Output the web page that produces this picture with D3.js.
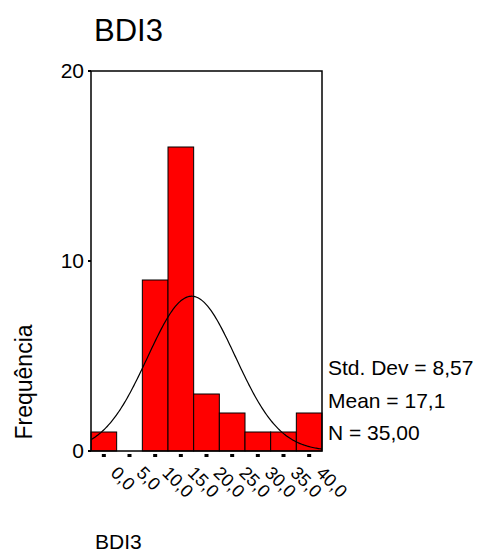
<!DOCTYPE html>
<html>
<head>
<meta charset="utf-8">
<script src="https://cdn.jsdelivr.net/npm/d3@7"></script>
<style>
  body { margin: 0; background: #fff; }
  svg text { font-family: "Liberation Sans", Arial, sans-serif; fill: #000; }
</style>
</head>
<body>
<svg id="chart" width="480" height="555"></svg>
<script>
// histogram bins (centers) and counts
var binCenters = [0, 5, 10, 15, 20, 25, 30, 35, 40];
var binCounts  = [1, 0, 9, 16, 3, 2, 1, 1, 2];
var tickLabels = ['0,0', '5,0', '10,0', '15,0', '20,0', '25,0', '30,0', '35,0', '40,0'];
var yTicks = [0, 10, 20];
var binWidth = 5;
var stdDev = 8.57, mean = 17.1, n = 35;
var statLines = ['Std. Dev = 8,57', 'Mean = 17,1', 'N = 35,00'];

(function() {
    var svg = d3.select('#chart'),
        plotLeft = 91, plotRight = 322, plotTop = 71, plotBottom = 451;

    var x = d3.scaleLinear()
        .domain([binCenters[0] - binWidth / 2, binCenters[binCenters.length - 1] + binWidth / 2])
        .range([plotLeft, plotRight]);
    var y = d3.scaleLinear().domain([0, 20]).range([plotBottom, plotTop]);

    // title
    svg.append('text')
        .attr('x', 94).attr('y', 41)
        .style('font-size', '31px')
        .text('BDI3');

    // bars
    svg.selectAll('rect.bar')
        .data(binCenters.map(function(c, i) { return { c: c, v: binCounts[i] }; })
            .filter(function(d) { return d.v > 0; }))
        .enter().append('rect')
        .attr('class', 'bar')
        .attr('x', function(d) { return x(d.c - binWidth / 2); })
        .attr('width', function(d) { return x(d.c + binWidth / 2) - x(d.c - binWidth / 2); })
        .attr('y', function(d) { return y(d.v); })
        .attr('height', function(d) { return y(0) - y(d.v); })
        .style('fill', '#ff0000')
        .style('stroke', '#000')
        .style('stroke-width', 1);

    // fitted normal curve from the stated stats
    var pdf = function(v) {
        return n * binWidth / (stdDev * Math.sqrt(2 * Math.PI)) *
            Math.exp(-0.5 * Math.pow((v - mean) / stdDev, 2));
    };
    var dom = x.domain();
    var xs = d3.range(0, 201).map(function(i) {
        return dom[0] + (dom[1] - dom[0]) * i / 200;
    });
    svg.append('path')
        .datum(xs)
        .attr('d', d3.line().x(function(v) { return x(v); }).y(function(v) { return y(pdf(v)); }))
        .style('fill', 'none')
        .style('stroke', '#000')
        .style('stroke-width', 1.2);

    // frame
    svg.append('rect')
        .attr('x', plotLeft).attr('y', plotTop)
        .attr('width', plotRight - plotLeft).attr('height', plotBottom - plotTop)
        .style('fill', 'none')
        .style('stroke', '#000')
        .style('stroke-width', 1.5);

    // y axis ticks + labels
    var yAxis = svg.append('g');
    yAxis.selectAll('line')
        .data(yTicks).enter().append('line')
        .attr('x1', plotLeft - 3).attr('x2', plotLeft)
        .attr('y1', function(d) { return y(d); })
        .attr('y2', function(d) { return y(d); })
        .style('stroke', '#000').style('stroke-width', 2);
    yAxis.selectAll('text')
        .data(yTicks).enter().append('text')
        .attr('x', plotLeft - 7)
        .attr('y', function(d) { return y(d) + 7; })
        .attr('text-anchor', 'end')
        .style('font-size', '21px')
        .text(function(d) { return d; });

    // x ticks (small squares under the axis) + rotated labels
    var xAxis = svg.append('g');
    xAxis.selectAll('rect')
        .data(binCenters).enter().append('rect')
        .attr('x', function(d) { return x(d) - 2; })
        .attr('y', plotBottom + 3)
        .attr('width', 4).attr('height', 3)
        .style('fill', '#000');
    xAxis.selectAll('text')
        .data(binCenters).enter().append('text')
        .attr('transform', function(d) {
            return 'translate(' + (x(d) + 6) + ',' + (plotBottom + 23) + ') rotate(45)';
        })
        .style('font-size', '18px')
        .text(function(d, i) { return tickLabels[i]; });

    // y axis title
    svg.append('text')
        .attr('transform', 'translate(32,382) rotate(-90)')
        .attr('text-anchor', 'middle')
        .style('font-size', '23px')
        .text('Frequência');

    // x axis title
    svg.append('text')
        .attr('x', 95).attr('y', 549)
        .style('font-size', '21px')
        .text('BDI3');

    // stats legend
    svg.selectAll('text.stat')
        .data(statLines).enter().append('text')
        .attr('class', 'stat')
        .attr('x', 328)
        .attr('y', function(d, i) { return 375 + i * 32.5; })
        .style('font-size', '21px')
        .text(function(d) { return d; });
})();
</script>
</body>
</html>
